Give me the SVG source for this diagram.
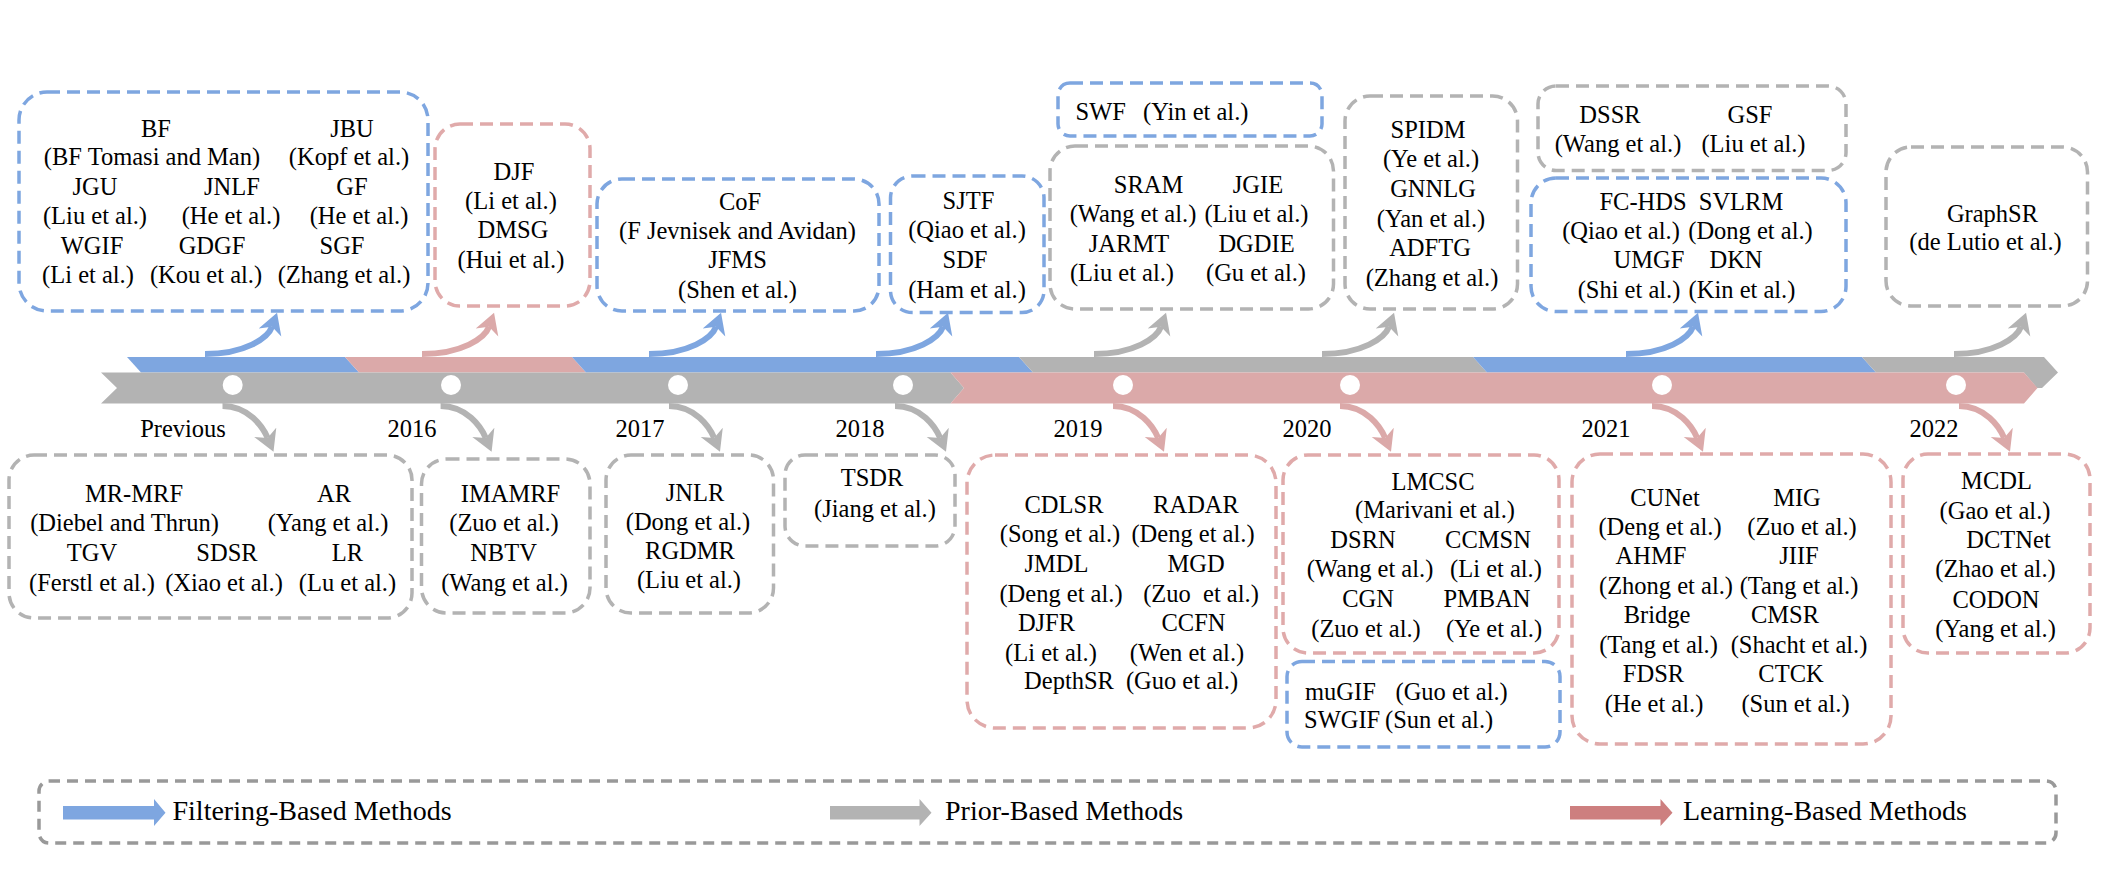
<svg xmlns="http://www.w3.org/2000/svg" width="2114" height="880" viewBox="0 0 2114 880">
<style>
text{font-family:'Liberation Serif','Times New Roman',serif;font-size:24.5px;fill:#000;text-anchor:middle}
.s{text-anchor:start}
.lg{font-size:28px;text-anchor:start}
.box{fill:none;stroke-width:3.5;stroke-dasharray:13 7}
.b{stroke:#7ea6e0}.p{stroke:#e0aaaa}.g{stroke:#b3b3b3}
.sh{fill:none;stroke-width:6}
</style>
<defs>
<marker id="mb" markerUnits="userSpaceOnUse" markerWidth="24" markerHeight="26" viewBox="0 -13 24 26" refX="6" refY="0" orient="auto"><path d="M0,-12 L21,0 L0,12 L6,0 Z" fill="#7ea6e0"/></marker>
<marker id="mp" markerUnits="userSpaceOnUse" markerWidth="24" markerHeight="26" viewBox="0 -13 24 26" refX="6" refY="0" orient="auto"><path d="M0,-12 L21,0 L0,12 L6,0 Z" fill="#dba9a9"/></marker>
<marker id="mg" markerUnits="userSpaceOnUse" markerWidth="24" markerHeight="26" viewBox="0 -13 24 26" refX="6" refY="0" orient="auto"><path d="M0,-12 L21,0 L0,12 L6,0 Z" fill="#b3b3b3"/></marker>
</defs>
<rect width="2114" height="880" fill="#fff"/>

<g id="timeline">
<polygon points="127,357 345,357 359,372.5 141,372.5" fill="#7ea6e0"/>
<polygon points="345,357 572,357 586,372.5 359,372.5" fill="#dba9a9"/>
<polygon points="572,357 1019,357 1033,372.5 586,372.5" fill="#7ea6e0"/>
<polygon points="1019,357 1473,357 1487,372.5 1033,372.5" fill="#b3b3b3"/>
<polygon points="1473,357 1862,357 1876,372.5 1487,372.5" fill="#7ea6e0"/>
<polygon points="1862,357 2044,357 2058,372.5 2042,388 2037,388 2024,372.5 1876,372.5" fill="#b3b3b3"/>
<polygon points="101,372.5 950.5,372.5 964,388 950.5,403.5 101,403.5 117,388" fill="#b3b3b3"/>
<polygon points="950.5,372.5 2024,372.5 2037.5,388 2024,403.5 950.5,403.5 964,388" fill="#dba9a9"/>
<g fill="#fff">
<circle cx="232.7" cy="385" r="10"/><circle cx="451" cy="385" r="10"/><circle cx="678" cy="385" r="10"/><circle cx="903" cy="385" r="10"/>
<circle cx="1123" cy="385" r="10"/><circle cx="1350" cy="385" r="10"/><circle cx="1662" cy="385" r="10"/><circle cx="1956" cy="385" r="10"/>
</g>
<text x="183" y="437">Previous</text><text x="412" y="437">2016</text><text x="640" y="437">2017</text><text x="860" y="437">2018</text>
<text x="1078" y="437">2019</text><text x="1307" y="437">2020</text><text x="1606" y="437">2021</text><text x="1934" y="437">2022</text>
</g>

<g id="connectors">
<path class="sh" stroke="#7ea6e0" marker-end="url(#mb)" d="M205,354 C245,354 268,338 272,326.8"/>
<path class="sh" stroke="#dba9a9" marker-end="url(#mp)" d="M422,354 C462,354 485,338 489,326.8"/>
<path class="sh" stroke="#7ea6e0" marker-end="url(#mb)" d="M649,354 C689,354 712,338 716,326.8"/>
<path class="sh" stroke="#7ea6e0" marker-end="url(#mb)" d="M876,354 C916,354 939,338 943,326.8"/>
<path class="sh" stroke="#b3b3b3" marker-end="url(#mg)" d="M1094,354 C1134,354 1157,338 1161,326.8"/>
<path class="sh" stroke="#b3b3b3" marker-end="url(#mg)" d="M1322,354 C1362,354 1385,338 1389,326.8"/>
<path class="sh" stroke="#7ea6e0" marker-end="url(#mb)" d="M1626,354 C1666,354 1689,338 1693,326.8"/>
<path class="sh" stroke="#b3b3b3" marker-end="url(#mg)" d="M1954,354 C1994,354 2017,338 2021,326.8"/>

<path class="sh" stroke="#b3b3b3" marker-end="url(#mg)" d="M222.5,406 C248.5,406 262.9,426.9 267.6,437.9"/>
<path class="sh" stroke="#b3b3b3" marker-end="url(#mg)" d="M440.6,406 C466.6,406 481,426.9 485.7,437.9"/>
<path class="sh" stroke="#b3b3b3" marker-end="url(#mg)" d="M669,406 C695,406 709.4,426.9 714.1,437.9"/>
<path class="sh" stroke="#b3b3b3" marker-end="url(#mg)" d="M895,406 C921,406 935.4,426.9 940.1,437.9"/>
<path class="sh" stroke="#dba9a9" marker-end="url(#mp)" d="M1113,406 C1139,406 1153.4,426.9 1158.1,437.9"/>
<path class="sh" stroke="#dba9a9" marker-end="url(#mp)" d="M1340,406 C1366,406 1380.4,426.9 1385.1,437.9"/>
<path class="sh" stroke="#dba9a9" marker-end="url(#mp)" d="M1652,406 C1678,406 1692.4,426.9 1697.1,437.9"/>
<path class="sh" stroke="#dba9a9" marker-end="url(#mp)" d="M1959,406 C1985,406 1999.4,426.9 2004.1,437.9"/>
</g>

<g id="n-bf">
<rect class="box b" x="19" y="92" width="409" height="219" rx="28"/>
<text x="156" y="137">BF</text><text x="152" y="165">(BF Tomasi and Man)</text>
<text x="352" y="137">JBU</text><text x="349" y="165">(Kopf et al.)</text>
<text x="95" y="195">JGU</text><text x="95" y="224">(Liu et al.)</text>
<text x="232" y="195">JNLF</text><text x="231" y="224">(He et al.)</text>
<text x="352" y="195">GF</text><text x="359" y="224">(He et al.)</text>
<text x="92" y="254">WGIF</text><text x="88" y="283">(Li et al.)</text>
<text x="212" y="254">GDGF</text><text x="206" y="283">(Kou et al.)</text>
<text x="342" y="254">SGF</text><text x="344" y="283">(Zhang et al.)</text>
</g>
<g id="n-djf">
<rect class="box p" x="435" y="124" width="155" height="182" rx="25"/>
<text x="514" y="180">DJF</text><text x="511" y="209">(Li et al.)</text>
<text x="513" y="238">DMSG</text><text x="511" y="268">(Hui et al.)</text>
</g>
<g id="n-cof">
<rect class="box b" x="597" y="179" width="282" height="132" rx="25"/>
<text x="740" y="210">CoF</text><text x="737.5" y="239">(F Jevnisek and Avidan)</text>
<text x="737.5" y="268">JFMS</text><text x="737.5" y="298">(Shen et al.)</text>
</g>
<g id="n-sjtf">
<rect class="box b" x="890.5" y="176" width="153.5" height="136.5" rx="22"/>
<text x="968.5" y="209">SJTF</text><text x="967" y="238">(Qiao et al.)</text>
<text x="965" y="268">SDF</text><text x="967" y="298">(Ham et al.)</text>
</g>
<g id="n-swf">
<rect class="box b" x="1058" y="83" width="264" height="53" rx="12"/>
<text class="s" x="1075.5" y="120">SWF</text><text class="s" x="1143" y="120">(Yin et al.)</text>
</g>
<g id="n-sram">
<rect class="box g" x="1050" y="146" width="283.5" height="163" rx="25"/>
<text x="1148.5" y="193">SRAM</text><text x="1133" y="222">(Wang et al.)</text>
<text x="1258" y="193">JGIE</text><text x="1256.5" y="222">(Liu et al.)</text>
<text x="1129" y="252">JARMT</text><text x="1122" y="281">(Liu et al.)</text>
<text x="1256.5" y="252">DGDIE</text><text x="1256" y="281">(Gu et al.)</text>
</g>
<g id="n-spidm">
<rect class="box g" x="1345" y="96" width="172.5" height="213" rx="25"/>
<text x="1428" y="138">SPIDM</text><text x="1431" y="167">(Ye et al.)</text>
<text x="1433" y="197">GNNLG</text><text x="1431" y="227">(Yan et al.)</text>
<text x="1430" y="256">ADFTG</text><text x="1432" y="286">(Zhang et al.)</text>
</g>
<g id="n-dssr">
<rect class="box g" x="1538" y="86" width="308" height="84.5" rx="18"/>
<text x="1610" y="123">DSSR</text><text x="1618" y="152">(Wang et al.)</text>
<text x="1750" y="123">GSF</text><text x="1753.5" y="152">(Liu et al.)</text>
</g>
<g id="n-fchds">
<rect class="box b" x="1531" y="178" width="315" height="133.5" rx="25"/>
<text x="1643" y="210">FC-HDS</text><text x="1741" y="210">SVLRM</text>
<text x="1621" y="239">(Qiao et al.)</text><text x="1750.5" y="239">(Dong et al.)</text>
<text x="1649" y="268">UMGF</text><text x="1736" y="268">DKN</text>
<text x="1629" y="298">(Shi et al.)</text><text x="1742" y="298">(Kin et al.)</text>
</g>
<g id="n-graphsr">
<rect class="box g" x="1886" y="147" width="201.5" height="159" rx="25"/>
<text x="1992.5" y="222">GraphSR</text><text x="1985.5" y="250">(de Lutio et al.)</text>
</g>

<g id="n-mrmrf">
<rect class="box g" x="9" y="455" width="403" height="163" rx="25"/>
<text x="134" y="502">MR-MRF</text><text x="124.5" y="531">(Diebel and Thrun)</text>
<text x="334" y="502">AR</text><text x="328" y="531">(Yang et al.)</text>
<text x="92" y="561">TGV</text><text x="92" y="591">(Ferstl et al.)</text>
<text x="227" y="561">SDSR</text><text x="224" y="591">(Xiao et al.)</text>
<text x="347.5" y="561">LR</text><text x="347.5" y="591">(Lu et al.)</text>
</g>
<g id="n-imamrf">
<rect class="box g" x="421.5" y="459" width="168.5" height="154" rx="25"/>
<text x="510.5" y="502">IMAMRF</text><text x="504" y="531">(Zuo et al.)</text>
<text x="503.5" y="561">NBTV</text><text x="504.5" y="591">(Wang et al.)</text>
</g>
<g id="n-jnlr">
<rect class="box g" x="606" y="455" width="167.5" height="158" rx="25"/>
<text x="695" y="501">JNLR</text><text x="688" y="530">(Dong et al.)</text>
<text x="690" y="559">RGDMR</text><text x="689" y="588">(Liu et al.)</text>
</g>
<g id="n-tsdr">
<rect class="box g" x="785" y="455" width="170" height="91" rx="20"/>
<text x="872" y="486">TSDR</text><text x="875" y="516.5">(Jiang et al.)</text>
</g>
<g id="n-cdlsr">
<rect class="box p" x="967" y="455" width="309" height="273" rx="28"/>
<text x="1064" y="513">CDLSR</text><text x="1196" y="513">RADAR</text>
<text x="1060" y="542">(Song et al.)</text><text x="1193" y="542">(Deng et al.)</text>
<text x="1056.5" y="572">JMDL</text><text x="1196" y="572">MGD</text>
<text x="1061" y="602">(Deng et al.)</text><text x="1201" y="602" xml:space="preserve">(Zuo  et al.)</text>
<text x="1046.5" y="631">DJFR</text><text x="1193.5" y="631">CCFN</text>
<text x="1051" y="661">(Li et al.)</text><text x="1187" y="661">(Wen et al.)</text>
<text x="1069" y="689">DepthSR</text><text x="1182" y="689">(Guo et al.)</text>
</g>
<g id="n-lmcsc">
<rect class="box p" x="1283" y="455" width="276" height="198" rx="25"/>
<text x="1433" y="490">LMCSC</text><text x="1435" y="518">(Marivani et al.)</text>
<text x="1363" y="548">DSRN</text><text x="1488" y="548">CCMSN</text>
<text x="1370" y="577">(Wang et al.)</text><text x="1496" y="577">(Li et al.)</text>
<text x="1368" y="607">CGN</text><text x="1487" y="607">PMBAN</text>
<text x="1366" y="637">(Zuo et al.)</text><text x="1494" y="637">(Ye et al.)</text>
</g>
<g id="n-mugif">
<rect class="box b" x="1287" y="661.5" width="273" height="85.5" rx="15"/>
<text class="s" x="1305" y="700">muGIF</text><text class="s" x="1395.5" y="700">(Guo et al.)</text>
<text class="s" x="1304" y="727.5">SWGIF</text><text class="s" x="1385" y="727.5">(Sun et al.)</text>
</g>
<g id="n-cunet">
<rect class="box p" x="1572" y="454" width="319" height="290" rx="28"/>
<text x="1665" y="506">CUNet</text><text x="1797" y="506">MIG</text>
<text x="1660" y="535">(Deng et al.)</text><text x="1802" y="535">(Zuo et al.)</text>
<text x="1651" y="564">AHMF</text><text x="1799" y="564">JIIF</text>
<text x="1666" y="594">(Zhong et al.)</text><text x="1799" y="594">(Tang et al.)</text>
<text x="1657" y="623">Bridge</text><text x="1785" y="623">CMSR</text>
<text x="1658.5" y="653">(Tang et al.)</text><text x="1799" y="653">(Shacht et al.)</text>
<text x="1653.5" y="682">FDSR</text><text x="1791" y="682">CTCK</text>
<text x="1654" y="712">(He et al.)</text><text x="1795.5" y="712">(Sun et al.)</text>
</g>
<g id="n-mcdl">
<rect class="box p" x="1903" y="454" width="187" height="199" rx="25"/>
<text x="1996.5" y="489">MCDL</text><text x="1995" y="519">(Gao et al.)</text>
<text x="2008.5" y="548">DCTNet</text><text x="1995.5" y="577">(Zhao et al.)</text>
<text x="1996" y="608">CODON</text><text x="1995.5" y="637">(Yang et al.)</text>
</g>

<g id="legend">
<rect x="39" y="781" width="2017" height="62" rx="10" fill="none" stroke="#999" stroke-width="3.5" stroke-dasharray="11 7"/>
<polygon points="63,806 154,806 154,799 165.5,812.7 154,826 154,819.4 63,819.4" fill="#7ea6e0"/>
<text class="lg" x="172.5" y="819.5">Filtering-Based Methods</text>
<polygon points="830,806 919.5,806 919.5,799 931.5,812.7 919.5,826 919.5,819.4 830,819.4" fill="#b3b3b3"/>
<text class="lg" x="945" y="819.5">Prior-Based Methods</text>
<polygon points="1570,806 1660.5,806 1660.5,799 1672.5,812.7 1660.5,826 1660.5,819.4 1570,819.4" fill="#cd7f7f"/>
<text class="lg" x="1683" y="819.5">Learning-Based Methods</text>
</g>
</svg>
